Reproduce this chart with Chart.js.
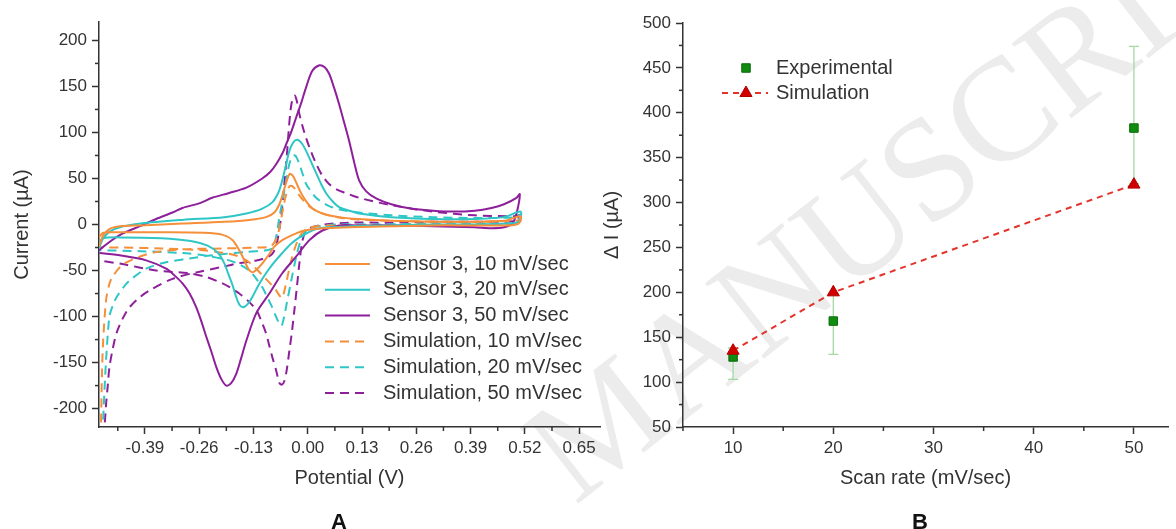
<!DOCTYPE html>
<html>
<head>
<meta charset="utf-8">
<title>Sensor 3 voltammograms and scan rate</title>
<script src="https://cdn.jsdelivr.net/npm/chart.js@4.4.1/dist/chart.umd.min.js"></script>
<style>
  html, body { margin: 0; padding: 0; background: #fff; }
  #wrap { position: relative; width: 1176px; height: 529px; overflow: hidden; }
  #mark { position: absolute; left: 0; top: 0; }
  canvas { position: absolute; top: 0; }
  #chartA { left: 0; }
  #chartB { left: 590px; }
  .panel { position: absolute; top: 509px; line-height: 22px; font: bold 22px "Liberation Sans", Arial, sans-serif; color: #111; }
</style>
</head>
<body>
<div id="wrap">
  <svg id="mark" width="1176" height="529">
    <text transform="translate(575,506) rotate(-38)" font-family="Liberation Serif, 'Times New Roman', serif" font-size="146" fill="#ececec">MANUSCRIPT</text>
  </svg>
  <canvas id="chartA" width="610" height="529"></canvas>
  <canvas id="chartB" width="586" height="529"></canvas>
  <div class="panel" style="left:331px">A</div>
  <div class="panel" style="left:912px">B</div>
</div>
<script>
// ---- Panel A: potential (V), current (uA) pairs ----
const sensor10 = [[-0.5,-24],[-0.49,-12],[-0.475,-5],[-0.45,-2],[-0.4,-1],[-0.3,1],[-0.2,3],[-0.14,5],[-0.1,8],[-0.08,13],[-0.068,22],[-0.058,36],[-0.05,48],[-0.043,55],[-0.036,53],[-0.028,46],[-0.018,36],[-0.005,26],[0.01,18],[0.035,12],[0.075,8],[0.12,6],[0.2,4],[0.3,3],[0.4,3],[0.47,4],[0.51,9],
  [0.505,1],[0.48,-1],[0.4,-1],[0.3,-1],[0.2,-2],[0.1,-3],[0.035,-4],[0,-6],[-0.013,-7],[-0.04,-12],[-0.061,-17],[-0.08,-24],[-0.092,-32],[-0.105,-40],[-0.116,-46],[-0.125,-50],[-0.133,-52],[-0.141,-49],[-0.147,-44],[-0.156,-35],[-0.164,-28],[-0.18,-17],[-0.205,-11],[-0.25,-9],[-0.35,-8.5],[-0.45,-8.5],[-0.49,-9],[-0.5,-14]];
const sensor20 = [[-0.5,-26],[-0.49,-15],[-0.475,-8],[-0.45,-3],[-0.4,1],[-0.3,5],[-0.2,8],[-0.147,12],[-0.11,17],[-0.085,24],[-0.07,35],[-0.061,48],[-0.052,65],[-0.044,80],[-0.035,89],[-0.025,92],[-0.014,88],[-0.004,80],[0.01,66],[0.02,56],[0.032,44],[0.044,34],[0.06,25],[0.075,19],[0.1,15],[0.123,12],[0.2,8],[0.3,6],[0.4,6],[0.47,8],[0.51,14],
  [0.505,3],[0.48,1],[0.4,0],[0.3,0],[0.2,-1],[0.1,-2],[0.05,-3],[0.02,-5],[0,-9],[-0.02,-14],[-0.04,-21],[-0.061,-31],[-0.08,-41],[-0.1,-53],[-0.118,-66],[-0.133,-79],[-0.145,-87],[-0.156,-90],[-0.164,-87],[-0.172,-78],[-0.18,-66],[-0.19,-54],[-0.2,-42],[-0.215,-31],[-0.24,-23],[-0.28,-18],[-0.35,-15],[-0.45,-14],[-0.49,-15],[-0.5,-20]];
const sensor50 = [[-0.5,-28],[-0.475,-19],[-0.444,-10],[-0.403,-2],[-0.363,6],[-0.324,13],[-0.3,18],[-0.26,23],[-0.229,29],[-0.19,34],[-0.147,40],[-0.109,50],[-0.09,57],[-0.075,66],[-0.06,78],[-0.051,88],[-0.04,100],[-0.028,116],[-0.015,133],[-0.004,149],[0.011,167],[0.028,173],[0.04,171],[0.051,164],[0.062,150],[0.075,131],[0.087,111],[0.099,91],[0.111,68],[0.123,48],[0.14,36],[0.165,28],[0.2,22],[0.25,17],[0.3,15],[0.35,14],[0.4,15],[0.44,18],[0.47,22],[0.5,29],[0.508,33],
  [0.5,12],[0.49,1],[0.47,-3],[0.44,-4],[0.4,-3],[0.3,-2],[0.2,-1],[0.12,-1],[0.075,-1],[0.035,-6.5],[0.004,-17],[-0.028,-35],[-0.061,-53],[-0.092,-75],[-0.123,-96],[-0.147,-126],[-0.16,-146],[-0.171,-162],[-0.183,-172],[-0.195,-175],[-0.207,-168],[-0.219,-155],[-0.231,-138],[-0.243,-122],[-0.255,-105],[-0.267,-90],[-0.283,-75],[-0.3,-64],[-0.32,-55],[-0.339,-48],[-0.387,-39],[-0.444,-34],[-0.499,-31]];
const sim10 = [[-0.495,-215],[-0.493,-165],[-0.49,-126],[-0.483,-82],[-0.476,-66],[-0.468,-57],[-0.444,-44],[-0.403,-35],[-0.363,-30],[-0.3,-27],[-0.2,-26],[-0.12,-25],[-0.09,-24],[-0.078,-18],[-0.07,-8],[-0.064,5],[-0.058,20],[-0.052,32],[-0.046,40],[-0.04,42],[-0.033,40],[-0.024,34],[-0.012,27],[0,21],[0.02,15],[0.05,10],[0.1,6],[0.2,4],[0.35,3],[0.5,4],[0.51,6],
  [0.505,1],[0.4,0],[0.3,0],[0.15,-1],[0.06,-1],[0.02,-2],[0,-4],[-0.015,-10],[-0.028,-22],[-0.04,-40],[-0.05,-60],[-0.057,-74],[-0.062,-80],[-0.068,-77],[-0.075,-72],[-0.09,-64],[-0.109,-55],[-0.128,-46],[-0.147,-39],[-0.17,-34],[-0.2,-31],[-0.25,-28],[-0.35,-26],[-0.45,-25],[-0.5,-25]];
const sim20 = [[-0.49,-212],[-0.488,-191],[-0.483,-147],[-0.475,-100],[-0.467,-88],[-0.458,-79],[-0.443,-69],[-0.427,-61],[-0.387,-48],[-0.339,-41],[-0.284,-37],[-0.24,-34],[-0.2,-32],[-0.15,-30],[-0.1,-28],[-0.085,-26],[-0.075,-12],[-0.068,8],[-0.062,22],[-0.056,37],[-0.05,52],[-0.044,66],[-0.037,74],[-0.03,75],[-0.022,68],[-0.013,56],[-0.004,44],[0.008,36],[0.02,29],[0.035,24],[0.051,20],[0.07,17],[0.092,15],[0.123,13],[0.2,10],[0.3,8],[0.4,7],[0.5,8],[0.51,11],
  [0.505,2],[0.4,1],[0.3,1],[0.15,0],[0.07,0],[0.025,-2],[0,-5],[-0.015,-15],[-0.028,-36],[-0.04,-62],[-0.05,-85],[-0.057,-101],[-0.063,-110],[-0.07,-106],[-0.078,-98],[-0.085,-90],[-0.097,-79],[-0.109,-68],[-0.125,-58],[-0.14,-50],[-0.165,-43],[-0.188,-39],[-0.243,-34],[-0.3,-31],[-0.4,-29],[-0.5,-28]];
const sim50 = [[-0.486,-215],[-0.483,-195],[-0.479,-175],[-0.475,-155],[-0.467,-135],[-0.458,-118],[-0.443,-102],[-0.427,-90],[-0.405,-80],[-0.38,-72],[-0.324,-59],[-0.267,-52],[-0.204,-46],[-0.164,-42],[-0.123,-39],[-0.1,-36],[-0.085,-32],[-0.075,-22],[-0.068,-5],[-0.062,15],[-0.057,40],[-0.051,70],[-0.046,100],[-0.041,125],[-0.036,137],[-0.031,140],[-0.026,134],[-0.02,120],[-0.012,106],[-0.004,94],[0.008,79],[0.02,66],[0.035,53],[0.051,44],[0.07,38],[0.092,34],[0.123,29],[0.2,21],[0.3,14],[0.4,10],[0.5,9],[0.505,10],
  [0.5,4],[0.4,3],[0.3,3],[0.2,2],[0.1,2],[0.04,0],[0.01,-3],[-0.005,-8],[-0.013,-18],[-0.02,-42],[-0.026,-68],[-0.032,-93],[-0.038,-117],[-0.044,-137],[-0.05,-157],[-0.056,-170],[-0.062,-174],[-0.068,-172],[-0.076,-158],[-0.085,-144],[-0.093,-130],[-0.1,-118],[-0.112,-104],[-0.123,-93],[-0.143,-83],[-0.164,-75],[-0.184,-69],[-0.204,-64],[-0.243,-57],[-0.284,-53],[-0.363,-50],[-0.444,-43],[-0.5,-39]];

const potentialTicks = [-0.39, -0.26, -0.13, 0, 0.13, 0.26, 0.39, 0.52, 0.65];
const currentTicks = [-200, -150, -100, -50, 0, 50, 100, 150, 200];

// ---- Panel B: peak current difference vs scan rate ----
const scanRates = [10, 20, 50];
const expDeltaI = [128, 168, 383];
const expErrLow = [25, 37, 62];
const expErrHigh = [10, 31, 91];
const simDeltaI = [135, 200, 320];
const scanRateTicks = [10, 20, 30, 40, 50];
const deltaITicks = [50, 100, 150, 200, 250, 300, 350, 400, 450, 500];

const FONT = '"Liberation Sans", Arial, sans-serif';
const INK = '#333';
Chart.defaults.font.family = FONT;
Chart.defaults.color = INK;

const ORANGE = '#f58f3a', CYAN = '#2fc6c6', PURPLE = '#8e1f9a';
const DASH = [9, 6];

function pts(pairs) {
    return pairs.map(p => ({ x: p[0], y: p[1] }));
}

// minor tick marks half way between the labelled ones
function midpoints(vals, lo, hi) {
    const step = vals[1] - vals[0];
    const out = [];
    for (let v = vals[0] - step / 2; v <= hi; v += step) {
        if (v >= lo) out.push(v);
    }
    return out;
}

const minorTicks = {
    id: 'minorTicks',
    afterDraw(chart, args, opts) {
        const ctx = chart.ctx;
        ctx.save();
        ctx.strokeStyle = INK;
        ctx.lineWidth = 1.5;
        Object.keys(opts).forEach(id => {
            const scale = chart.scales[id];
            if (!scale || !Array.isArray(opts[id])) return;
            opts[id].forEach(v => {
                const p = scale.getPixelForValue(v);
                ctx.beginPath();
                if (scale.isHorizontal()) {
                    ctx.moveTo(p, scale.top);
                    ctx.lineTo(p, scale.top + 4);
                } else {
                    ctx.moveTo(scale.right, p);
                    ctx.lineTo(scale.right - 4, p);
                }
                ctx.stroke();
            });
        });
        ctx.restore();
    }
};

function axis(min, max, tickVals, fmt, title, titlePad, fitKey, fitSize) {
    return {
        type: 'linear',
        min: min,
        max: max,
        afterBuildTicks: s => { s.ticks = tickVals.map(v => ({ value: v })); },
        afterFit: s => { s[fitKey] = fitSize; },
        ticks: { callback: fmt, font: { size: 17 }, color: INK, padding: fitKey === 'height' ? 4 : 5, maxRotation: 0, autoSkip: false },
        grid: { drawOnChartArea: false, tickLength: 7, tickWidth: 1.5, tickColor: INK },
        border: { display: true, color: INK, width: 1.5 },
        title: { display: true, text: title, font: { size: 20 }, color: INK, padding: titlePad }
    };
}

// ---- Panel A ----
const cvLegend = {
    id: 'cvLegend',
    afterDatasetsDraw(chart, args, opts) {
        const ctx = chart.ctx;
        ctx.save();
        ctx.font = '20px ' + FONT;
        ctx.fillStyle = INK;
        ctx.textBaseline = 'middle';
        chart.data.datasets.forEach((ds, i) => {
            const y = opts.top + i * opts.rowGap;
            ctx.strokeStyle = ds.borderColor;
            ctx.lineWidth = ds.borderWidth;
            ctx.setLineDash(ds.borderDash || []);
            ctx.beginPath();
            ctx.moveTo(opts.left, y);
            ctx.lineTo(opts.left + opts.lineLen, y);
            ctx.stroke();
            ctx.setLineDash([]);
            ctx.fillText(ds.label, opts.left + opts.lineLen + opts.gap, y);
        });
        ctx.restore();
    }
};

function cvSet(label, pairs, color, dashed) {
    return {
        label: label,
        data: pts(pairs),
        showLine: true,
        borderColor: color,
        borderWidth: 2,
        borderDash: dashed ? DASH : [],
        pointRadius: 0,
        tension: 0.3,
        fill: false
    };
}

new Chart(document.getElementById('chartA'), {
    type: 'scatter',
    data: {
        datasets: [
            cvSet('Sensor 3, 10 mV/sec', sensor10, ORANGE, false),
            cvSet('Sensor 3, 20 mV/sec', sensor20, CYAN, false),
            cvSet('Sensor 3, 50 mV/sec', sensor50, PURPLE, false),
            cvSet('Simulation, 10 mV/sec', sim10, ORANGE, true),
            cvSet('Simulation, 20 mV/sec', sim20, CYAN, true),
            cvSet('Simulation, 50 mV/sec', sim50, PURPLE, true)
        ]
    },
    options: {
        responsive: false,
        animation: false,
        layout: { padding: { left: 0, right: 10, top: 22, bottom: 0 } },
        plugins: {
            legend: { display: false },
            tooltip: { enabled: false },
            cvLegend: { left: 325, lineLen: 45, gap: 13, top: 264, rowGap: 25.8 },
            minorTicks: {
                x: midpoints(potentialTicks, -0.5, 0.7),
                y: midpoints(currentTicks, -220, 220)
            }
        },
        scales: {
            x: axis(-0.5, 0.7, potentialTicks, v => v.toFixed(2), 'Potential (V)', { top: 0, bottom: 39 }, 'height', 102),
            y: axis(-220, 220, currentTicks, v => String(v), 'Current (µA)', { top: 10, bottom: 0 }, 'width', 99)
        }
    },
    plugins: [cvLegend, minorTicks]
});

// ---- Panel B ----
const errorBars = {
    id: 'errorBars',
    beforeDatasetsDraw(chart) {
        const ctx = chart.ctx;
        const xs = chart.scales.x, ys = chart.scales.y;
        ctx.save();
        ctx.strokeStyle = '#a3d9a3';
        ctx.lineWidth = 1.3;
        scanRates.forEach((r, i) => {
            const x = xs.getPixelForValue(r);
            const top = ys.getPixelForValue(expDeltaI[i] + expErrHigh[i]);
            const bot = ys.getPixelForValue(expDeltaI[i] - expErrLow[i]);
            ctx.beginPath();
            ctx.moveTo(x, top); ctx.lineTo(x, bot);
            ctx.moveTo(x - 5, top); ctx.lineTo(x + 5, top);
            ctx.moveTo(x - 5, bot); ctx.lineTo(x + 5, bot);
            ctx.stroke();
        });
        ctx.restore();
    }
};

const rateLegend = {
    id: 'rateLegend',
    afterDatasetsDraw(chart, args, opts) {
        const ctx = chart.ctx;
        ctx.save();
        ctx.font = '20px ' + FONT;
        ctx.fillStyle = INK;
        ctx.textBaseline = 'middle';
        const order = [chart.data.datasets[1], chart.data.datasets[0]];
        order.forEach((ds, i) => {
            const y = opts.top + i * opts.rowGap;
            if (ds.showLine) {
                ctx.strokeStyle = ds.borderColor;
                ctx.lineWidth = ds.borderWidth;
                ctx.setLineDash(ds.borderDash || []);
                ctx.beginPath();
                ctx.moveTo(opts.mid - 24, y);
                ctx.lineTo(opts.mid + 22, y);
                ctx.stroke();
                ctx.setLineDash([]);
            }
            ctx.fillStyle = ds.pointBackgroundColor;
            ctx.strokeStyle = ds.pointBorderColor;
            ctx.lineWidth = 1;
            Chart.helpers.drawPoint(ctx, { pointStyle: ds.pointStyle, radius: ds.pointRadius, rotation: 0, borderWidth: 1 }, opts.mid, y);
            ctx.fillStyle = INK;
            ctx.fillText(ds.label, opts.textX, y);
        });
        ctx.restore();
    }
};

new Chart(document.getElementById('chartB'), {
    type: 'scatter',
    data: {
        datasets: [
            {
                label: 'Simulation',
                data: scanRates.map((r, i) => ({ x: r, y: simDeltaI[i] })),
                showLine: true,
                borderColor: '#e3342c',
                borderWidth: 2,
                borderDash: [6, 5],
                pointStyle: 'triangle',
                pointRadius: 7,
                pointBackgroundColor: '#d10000',
                pointBorderColor: '#b00000',
                pointBorderWidth: 1,
                order: 0
            },
            {
                label: 'Experimental',
                data: scanRates.map((r, i) => ({ x: r, y: expDeltaI[i] })),
                showLine: false,
                pointStyle: 'rect',
                pointRadius: 6,
                pointBackgroundColor: '#108c10',
                pointBorderColor: '#0a6a0a',
                pointBorderWidth: 1,
                order: 1
            }
        ]
    },
    options: {
        responsive: false,
        animation: false,
        layout: { padding: { left: 0, right: 0, top: 23, bottom: 0 } },
        plugins: {
            legend: { display: false },
            tooltip: { enabled: false },
            rateLegend: { mid: 156, textX: 186, top: 68, rowGap: 25 },
            minorTicks: {
                x: midpoints(scanRateTicks, 5, 53.4),
                y: midpoints(deltaITicks, 50, 500)
            }
        },
        scales: {
            x: axis(5, 53.4, scanRateTicks, v => String(v), 'Scan rate (mV/sec)', { top: 0, bottom: 39 }, 'height', 102),
            y: axis(50, 500, deltaITicks, v => String(v), 'Δ I (µA)', { top: 10, bottom: 0 }, 'width', 93)
        }
    },
    plugins: [errorBars, rateLegend, minorTicks]
});
</script>
</body>
</html>
